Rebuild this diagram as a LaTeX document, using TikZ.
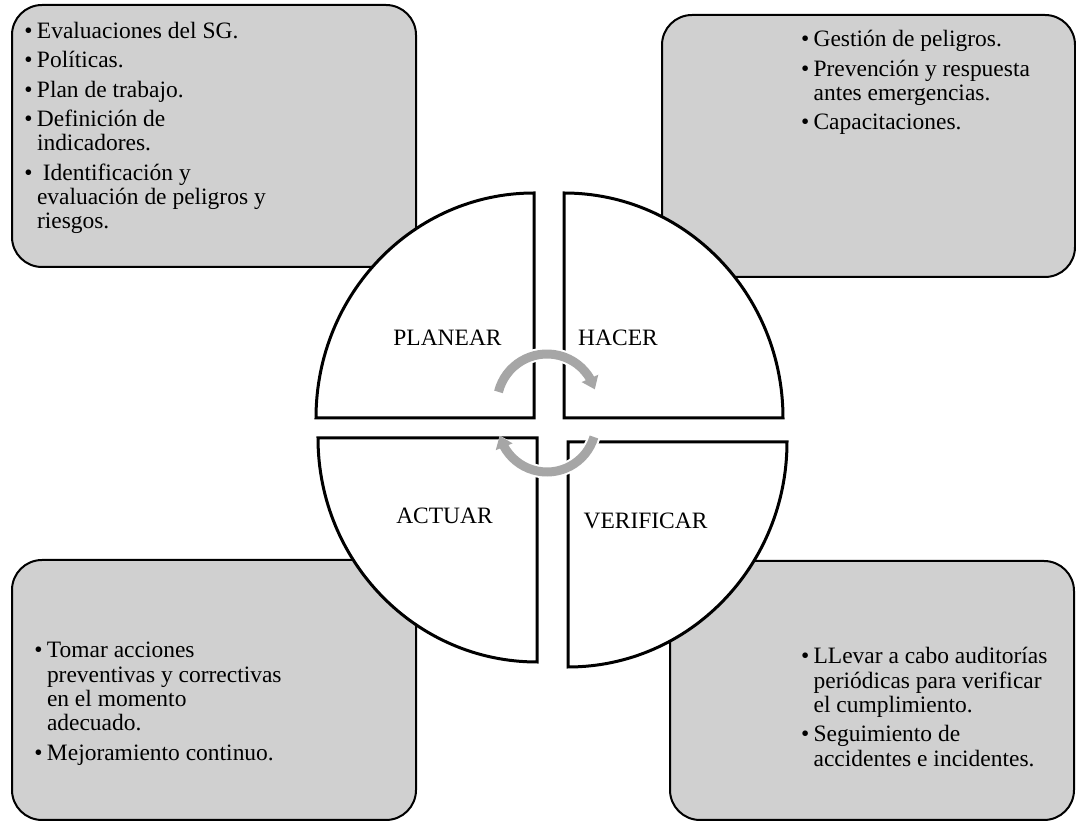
\documentclass[tikz,border=0pt]{standalone}
\usepackage{fontspec}
\setmainfont{Liberation Serif}
\usetikzlibrary{arrows.meta,bending}

\definecolor{boxgray}{HTML}{D0D0D0}
\definecolor{arrowgray}{HTML}{A6A6A6}

% one bullet point with a hanging indent; \newline keeps lines in the same paragraph
\newcommand{\pdcaitem}[1]{\par\noindent\hangindent=9.4pt\hangafter=1\makebox[9.4pt][l]{\textbullet}#1}
% a block of bullet points; its baseline is that of the first line
\newcommand{\pdcalist}[1]{\parbox[t]{240pt}{\fontsize{17.6pt}{18.2pt}\selectfont\raggedright\parskip=3.9pt #1}}

\tikzset{
  infobox/.style={draw=black, line width=1.5pt, fill=boxgray, rounded corners=22.5pt},
  quadrant/.style={draw=black, line width=2.25pt, fill=white, line join=miter},
  phase/.style={anchor=base, inner sep=0pt, font=\fontsize{17.6pt}{18.2pt}\selectfont},
  listtext/.style={anchor=base west, inner sep=0pt},
  cyclearrow/.style={draw=arrowgray, line width=6.75pt,
    -{Triangle[length=9pt,width=13pt,flex]}},
  arrowhalo/.style={draw=white, line width=9.75pt,
    -{Triangle[length=11pt,width=17pt,flex]}},
}

\begin{document}
\begin{tikzpicture}[x=0.75pt, y=0.75pt]
  \useasboundingbox (0,0) rectangle (1076,821);

  % four grey boxes with the activities of each phase
  \path[infobox] (12,554) rectangle (416,816);
  \path[infobox] (662,544) rectangle (1075,806);
  \path[infobox] (12,1) rectangle (416,261);
  \path[infobox] (670,1) rectangle (1074,260);

  % the circle split into four quadrants
  \path[quadrant] (534,403) -- (316,403)
    arc[start angle=180, end angle=90, x radius=218, y radius=225] -- cycle;
  \path[quadrant] (564,403) -- (564,628)
    arc[start angle=90, end angle=0, x radius=219, y radius=225] -- cycle;
  \path[quadrant] (537,383) -- (318,383)
    arc[start angle=180, end angle=270, x radius=219, y radius=224] -- cycle;
  \path[quadrant] (568,379) -- (568,154)
    arc[start angle=270, end angle=360, x radius=219, y radius=225] -- cycle;

  % phase names
  \node[phase] (planear) at (447.5,475.3) {PLANEAR};
  \node[phase] (hacer) at (618,475.3) {HACER};
  \node[phase] (actuar) at (444.5,297.7) {ACTUAR};
  \node[phase] (verificar) at (645.5,292.7) {VERIFICAR};

  % cycle arrows in the middle
  \draw[arrowhalo] (547,417) ++(166:50) arc[start angle=166, end angle=17, radius=50];
  \draw[cyclearrow] (547,417) ++(166:50) arc[start angle=166, end angle=17, radius=50];
  \draw[arrowhalo] (547,398) ++(-16.6:49) arc[start angle=-16.6, end angle=-165, radius=49];
  \draw[cyclearrow] (547,398) ++(-16.6:49) arc[start angle=-16.6, end angle=-165, radius=49];

  % box texts
  \node[listtext] (planlist) at (24.2,782.7) {\pdcalist{%
    \pdcaitem{Evaluaciones del SG.}
    \pdcaitem{Políticas.}
    \pdcaitem{Plan de trabajo.}
    \pdcaitem{Definición de\newline indicadores.}
    \pdcaitem{\ Identificación y\newline evaluación de peligros y\newline riesgos.}}};
  \node[listtext] (hacerlist) at (800.8,774.3) {\pdcalist{%
    \pdcaitem{Gestión de peligros.}
    \pdcaitem{Prevención y respuesta\newline antes emergencias.}
    \pdcaitem{Capacitaciones.}}};
  \node[listtext] (actuarlist) at (34.2,163) {\pdcalist{%
    \pdcaitem{Tomar acciones\newline preventivas y correctivas\newline en el momento\newline adecuado.}
    \pdcaitem{Mejoramiento continuo.}}};
  \node[listtext] (verificarlist) at (800.8,157) {\pdcalist{%
    \pdcaitem{LLevar a cabo auditorías\newline periódicas para verificar\newline el cumplimiento.}
    \pdcaitem{Seguimiento de\newline accidentes e incidentes.}}};
\end{tikzpicture}
\end{document}
